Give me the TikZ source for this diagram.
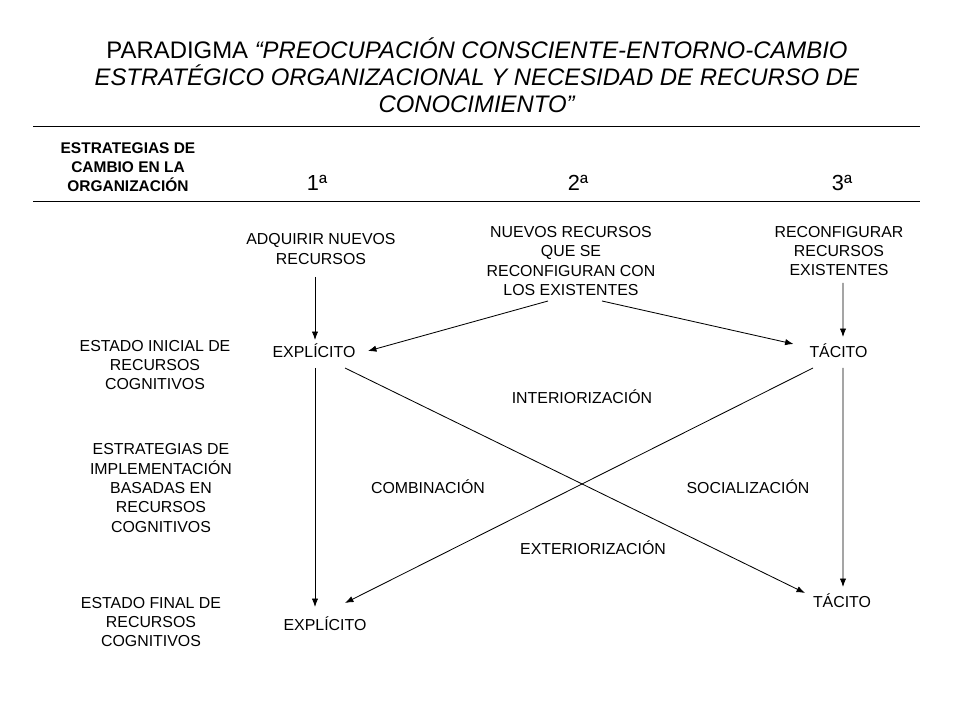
\documentclass[tikz,border=0pt]{standalone}
\usepackage{fontspec}
\setmainfont{Liberation Sans}
\usetikzlibrary{arrows.meta,calc}

\begin{document}
\begin{tikzpicture}[x=0.025cm, y=-0.025cm,
	txt/.style={align=center, inner sep=0pt, font=\fontsize{11.3}{13.8}\selectfont},
	lbl/.style={inner sep=0pt, text height=8.1pt, text depth=0pt, font=\fontsize{11.3}{13.8}\selectfont},
	arr/.style={line width=0.6pt, -{Latex[length=6pt,width=4.5pt]}}]
	\useasboundingbox (0, 0) rectangle (960, 720);

	\node[align=center, inner sep=0pt, font=\fontsize{17}{19.2}\selectfont] at (477, 75) (title)
		{PARADIGMA \textit{“PREOCUPACIÓN CONSCIENTE-ENTORNO-CAMBIO}\\
		\textit{ESTRATÉGICO ORGANIZACIONAL Y NECESIDAD DE RECURSO DE}\\
		\textit{CONOCIMIENTO”}};

	\foreach \y in {126, 201}{
		\draw[line width=0.7pt] (33, \y) -- (920, \y);
	}
	\node[txt, font=\fontsize{11}{13.5}\selectfont\bfseries] at (128, 167) (head)
		{ESTRATEGIAS DE\\ CAMBIO EN LA\\ ORGANIZACIÓN};
	\foreach \x/\t [count=\i] in {317/1ª, 578/2ª, 842/3ª}{
		\node[inner sep=0pt, font=\fontsize{15.5}{18}\selectfont] at (\x, 183) (n\i) {\t};
	}

	\node[txt] at (321, 249) (adq) {ADQUIRIR NUEVOS\\ RECURSOS};
	\node[txt] at (571, 261) (nuevos) {NUEVOS RECURSOS\\ QUE SE\\ RECONFIGURAN CON\\ LOS EXISTENTES};
	\node[txt] at (839, 251) (reconf) {RECONFIGURAR\\ RECURSOS\\ EXISTENTES};

	\node[txt] at (155, 365) (inicial) {ESTADO INICIAL DE\\ RECURSOS\\ COGNITIVOS};
	\node[txt] at (161, 488) (implem) {ESTRATEGIAS DE\\ IMPLEMENTACIÓN\\ BASADAS EN\\ RECURSOS\\ COGNITIVOS};
	\node[txt] at (151, 622) (final) {ESTADO FINAL DE\\ RECURSOS\\ COGNITIVOS};

	\node[lbl] at (314, 352) (explIni) {EXPLÍCITO};
	\node[lbl] at (838.5, 352) (tacIni) {TÁCITO};
	\node[lbl] at (325, 625) (explFin) {EXPLÍCITO};
	\node[lbl] at (842, 602) (tacFin) {TÁCITO};

	\node[lbl] at (582, 398) (interior) {INTERIORIZACIÓN};
	\node[lbl] at (428, 488) (combin) {COMBINACIÓN};
	\node[lbl] at (748, 488) (social) {SOCIALIZACIÓN};
	\node[lbl] at (593, 549) (exter) {EXTERIORIZACIÓN};

	% arrows into the initial state
	\draw[arr] ($(adq)+(-6, 28)$) -- ($(explIni)+(1, -12)$);
	\draw[arr] ($(nuevos)+(-23, 40)$) -- ($(explIni)+(54, -1)$);
	\draw[arr] ($(nuevos)+(31, 40)$) -- ($(tacIni)+(-45, -8)$);
	\draw[arr] ($(reconf)+(4, 32)$) -- ($(tacIni)+(4.5, -15)$);

	% arrows into the final state
	\draw[arr] ($(explIni)+(1, 16)$) -- ($(explFin)+(-10, -18)$);
	\draw[arr] ($(explIni)+(31, 16)$) -- ($(tacFin)+(-37, -9)$);
	\draw[arr] ($(tacIni)+(-25.5, 16)$) -- ($(explFin)+(20, -22)$);
	\draw[arr] ($(tacIni)+(4.5, 16)$) -- ($(tacFin)+(1, -15)$);
\end{tikzpicture}
\end{document}
